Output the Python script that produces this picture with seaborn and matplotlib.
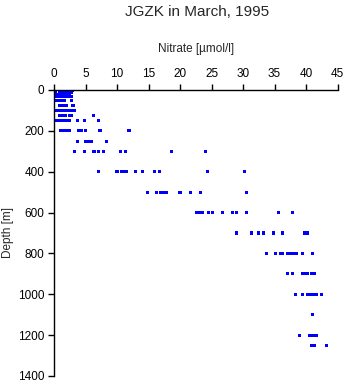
import matplotlib
matplotlib.use("Agg")
import matplotlib.pyplot as plt
import seaborn as sns
import pandas as pd

depths = [0, 5, 10, 20, 30, 50, 75, 100, 125, 150, 200, 250, 300, 400, 500,
          600, 700, 800, 900, 1000, 1100, 1200, 1250]
nitrate = [
    [0.1, 0.9, 1.2, 1.5, 1.8, 2.1, 2.6, 2.9],
    [1.0, 1.3, 1.6, 2.0, 2.5],
    [0.2, 0.9, 1.2, 1.6, 2.0, 2.7],
    [0.1, 0.5, 1.0, 1.5, 2.0, 2.5],
    [0.2, 0.8, 1.2, 1.7, 2.2, 2.7],
    [0.1, 0.4, 0.9, 1.3, 1.7, 2.8],
    [0.9, 1.4, 1.9, 2.9, 3.1],
    [0.1, 0.4, 0.9, 1.4, 1.8, 2.3, 2.8, 3.2],
    [0.9, 1.3, 1.8, 2.4, 2.8, 6.3],
    [0.1, 0.5, 1.0, 1.4, 1.9, 2.5, 3.8, 4.8, 7.0],
    [1.0, 1.5, 2.0, 2.5, 3.9, 4.4, 5.0, 7.3, 11.9],
    [3.8, 5.0, 5.4, 6.0, 8.4],
    [3.2, 4.8, 6.3, 6.4, 7.1, 7.9, 10.6, 11.4, 18.6, 24.0],
    [7.1, 10.0, 10.7, 11.1, 11.5, 12.9, 14.0, 15.9, 16.7, 24.3, 30.3],
    [14.9, 16.2, 16.9, 17.4, 17.9, 20.0, 21.6, 23.2, 30.5],
    [22.6, 23.0, 23.5, 24.5, 25.1, 26.7, 28.4, 29.0, 30.5, 35.7, 37.8],
    [28.9, 31.4, 32.4, 33.3, 34.9, 36.2, 39.8, 40.2],
    [33.8, 35.1, 35.9, 36.3, 37.1, 37.6, 38.0, 38.5, 39.4, 41.0],
    [37.0, 37.9, 39.5, 39.9, 40.2, 40.9, 41.3],
    [38.3, 39.4, 40.3, 40.8, 41.3, 41.7, 42.4],
    [41.1],
    [39.0, 40.6, 41.0, 41.4, 41.7],
    [40.9, 41.3, 43.2],
]
x_ticks = [0, 5, 10, 15, 20, 25, 30, 35, 40, 45]
y_ticks = [0, 200, 400, 600, 800, 1000, 1200, 1400]

rows = [(d, v) for d, vals in zip(depths, nitrate) for v in vals]
df = pd.DataFrame(rows, columns=["depth", "nitrate"])

sns.set_style("ticks")
plt.rcParams['font.family'] = ['Liberation Sans', 'DejaVu Sans']

fig = plt.figure(figsize=(3.48, 3.84), dpi=100)
ax = fig.add_axes([54/348, 1 - 376/384, (337.5 - 54)/348, (376 - 90)/384])

sns.scatterplot(data=df, x="nitrate", y="depth", ax=ax, marker="s", s=5,
                color="#0000ff", edgecolor="none", linewidth=0, legend=False)

ax.set_xlim(0, 45)
ax.set_ylim(1400, 0)
ax.set_xticks(x_ticks)
ax.set_yticks(y_ticks)
ax.xaxis.set_ticks_position("top")
ax.xaxis.set_label_position("top")
ax.spines["right"].set_visible(False)
ax.spines["bottom"].set_visible(False)
for s in ["left", "top"]:
    ax.spines[s].set_linewidth(1.0)
    ax.spines[s].set_color("black")
ax.tick_params(axis="both", length=4, width=1.0, labelsize=8.5, colors="black", pad=3)
ax.set_xlabel("Nitrate [µmol/l]", fontsize=8.5, labelpad=12)
ax.set_ylabel("Depth [m]", fontsize=8.5, labelpad=3)
fig.text(197/348, 1 - 12/384, "JGZK in March, 1995", ha="center", va="center", fontsize=11)

fig.savefig("out.png", dpi=100)
